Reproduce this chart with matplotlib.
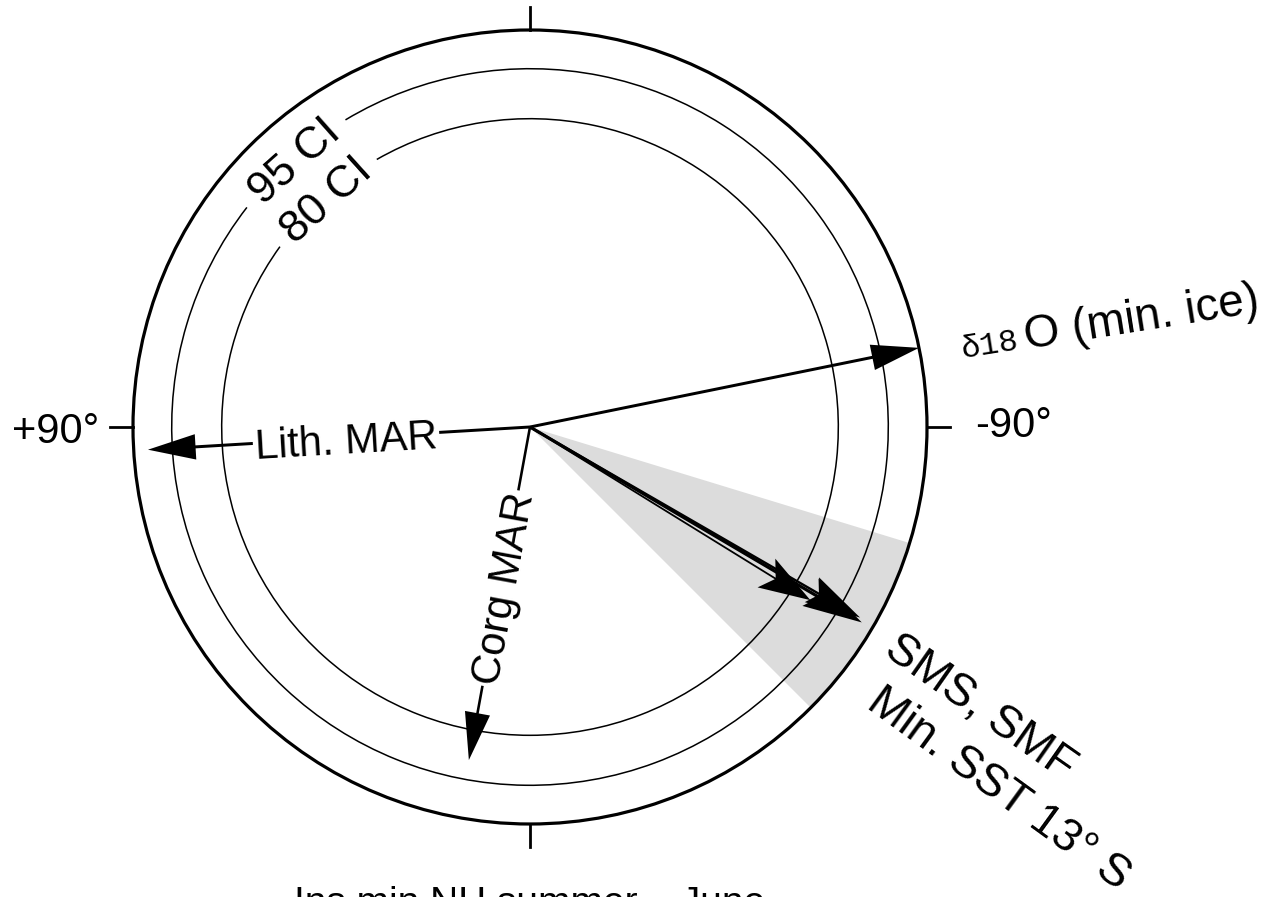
import numpy as np
import matplotlib.pyplot as plt
from matplotlib.patches import Arc, Circle, Wedge

plt.rcParams['font.family'] = ['Liberation Sans', 'DejaVu Sans']

# phase wheel data (phase in degrees, + = counter-clockwise from top)
arrow_names = ['d18O', 'Lith. MAR', 'Corg MAR', 'SMS', 'SMF', 'Min. SST']
arrow_phase = [-78.5, 93.4, 169.6, -120.5, -120.0, -121.7]
arrow_len = [1.0, 0.964, 0.853, 0.97, 0.96, 0.83]

ci_labels = ['95 CI', '80 CI']
ci_radius = [0.9025, 0.7766]
ci_gap = [(121.0, 142.2), (119.8, 144.2)]  # where the label cuts the circle

wedge_phase = [-107.0, -135.0]   # shaded spread of the SMS/SST phases
tick_phase = [0, 90, 180, -90]

W, H = 1283, 897
cx, cy = 530, 427   # centre of wheel in pixels
R = 397.0           # outer radius in pixels

fig = plt.figure(figsize=(W / 100, H / 100), dpi=100)
ax = fig.add_axes([0, 0, 1, 1])
ax.set_xlim(-cx / R, (W - cx) / R)
ax.set_ylim((cy - H) / R, cy / R)
ax.axis('off')


def px(x, y):
    # picture pixel -> data units (for placing labels)
    return (x - cx) / R, (cy - y) / R


def polar(phase, r):
    a = np.deg2rad(90 + phase)
    return r * np.cos(a), r * np.sin(a)


# shaded wedge
ax.add_patch(Wedge((0, 0), 1.0, 90 + wedge_phase[1], 90 + wedge_phase[0],
                   fc='#dcdcdc', ec='none', zorder=1))

# outer circle + ticks
ax.add_patch(Circle((0, 0), 1.0, fill=False, ec='k', lw=2.3, zorder=2))
for p in tick_phase:
    x0, y0 = polar(p, 1.0)
    x1, y1 = polar(p, 1.058)
    ax.plot([x0, x1], [y0, y1], color='k', lw=2.0, zorder=2)

# confidence circles with their labels
for lab, r, (g0, g1) in zip(ci_labels, ci_radius, ci_gap):
    ax.add_patch(Arc((0, 0), 2 * r, 2 * r, theta1=g1, theta2=g0 + 360,
                     ec='k', lw=1.1, zorder=2))
    mid = (g0 + g1) / 2
    tx, ty = r * np.cos(np.deg2rad(mid)), r * np.sin(np.deg2rad(mid))
    ax.text(tx, ty, lab, fontsize=32, rotation=mid - 90, rotation_mode='anchor',
            ha='center', va='center_baseline', zorder=4)

# arrows
styles = {
    'd18O': dict(width=0.0075, head_width=0.065, head_length=0.12, overhang=0),
    'Lith. MAR': dict(width=0.0075, head_width=0.064, head_length=0.12, overhang=0),
    'Corg MAR': dict(width=0.0065, head_width=0.064, head_length=0.12, overhang=0),
    'SMS': dict(width=0.008, head_width=0.08, head_length=0.15, overhang=0.15),
    'SMF': dict(width=0.006, head_width=0.072, head_length=0.14, overhang=0.15),
    'Min. SST': dict(width=0.0045, head_width=0.085, head_length=0.13, overhang=0.2),
}
for name, p, L in zip(arrow_names, arrow_phase, arrow_len):
    dx, dy = polar(p, L)
    ax.arrow(0, 0, dx, dy, length_includes_head=True, fc='k', ec='k', lw=0,
             zorder=3, **styles[name])

# arrow labels
ax.text(*px(346, 438), 'Lith. MAR', fontsize=30, rotation=3.4, rotation_mode='anchor',
        ha='center', va='center_baseline', zorder=5,
        bbox=dict(fc='white', ec='none', pad=1.5))
ax.text(*px(500, 588), 'Corg MAR', fontsize=30, rotation=79.6, rotation_mode='anchor',
        ha='center', va='center_baseline', zorder=5,
        bbox=dict(fc='white', ec='none', pad=1.5))
ax.text(*px(962, 358), 'δ18', family=['Liberation Mono', 'DejaVu Sans Mono'], fontsize=23,
        rotation=9, rotation_mode='anchor', ha='left', va='baseline')
ax.text(*px(1026, 349), 'O (min. ice)', fontsize=33, rotation=9, rotation_mode='anchor',
        ha='left', va='baseline')
ax.text(*px(882, 654), 'SMS, SMF', fontsize=33, rotation=-35, rotation_mode='anchor',
        ha='left', va='baseline')
ax.text(*px(865, 707), 'Min. SST 13° S', fontsize=33, rotation=-36, rotation_mode='anchor',
        ha='left', va='baseline')

# axis labels
ax.text(*px(99, 443), '+90°', fontsize=30, ha='right', va='baseline')
ax.text(*px(975, 437), '-90°', fontsize=30, ha='left', va='baseline')
ax.text(*px(530, 914), 'Ins min NH summer – June', fontsize=28, ha='center', va='baseline')

fig.savefig('out.png', dpi=100)
